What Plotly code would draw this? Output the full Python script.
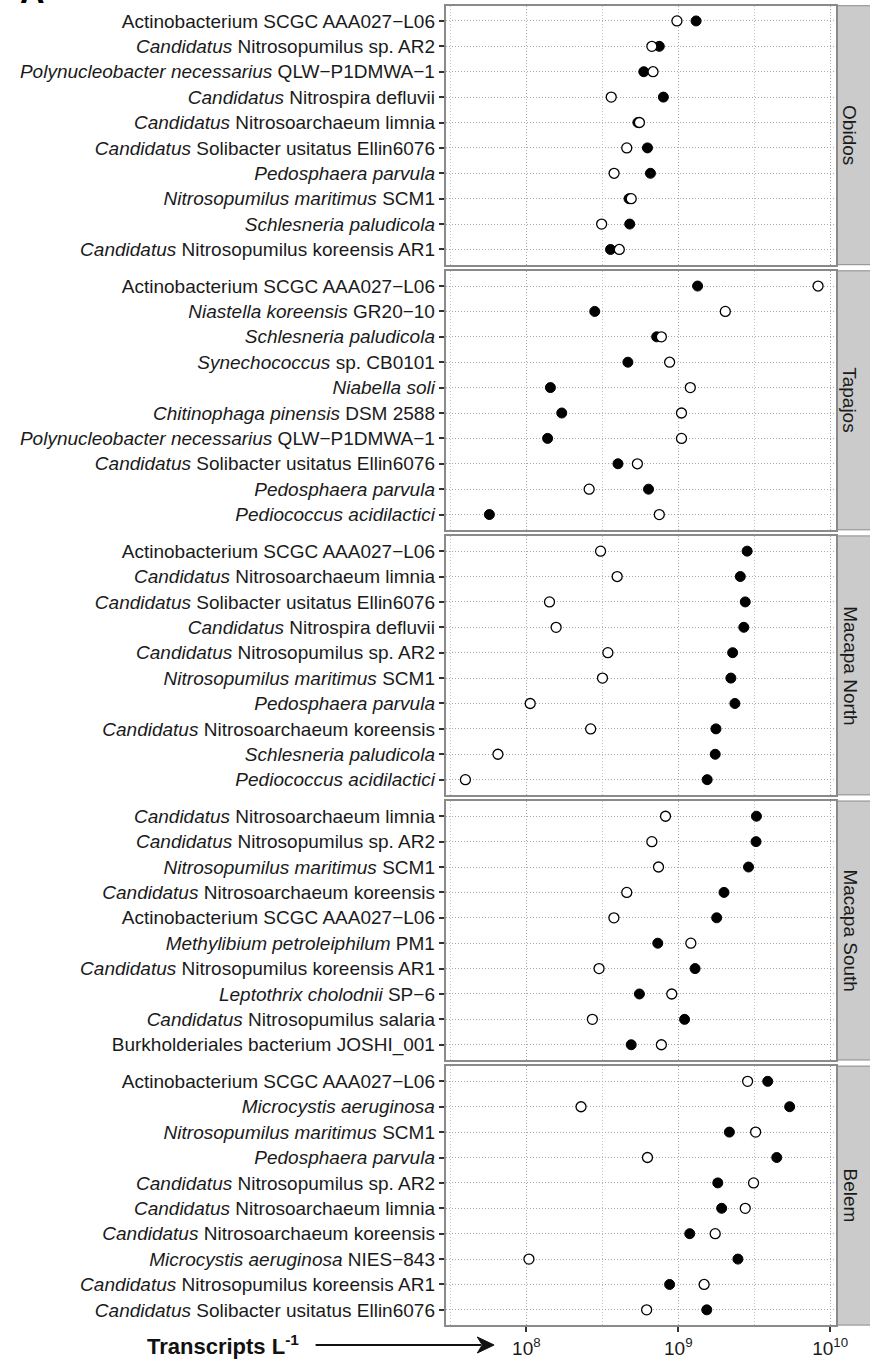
import plotly.graph_objects as go

W, H = 870, 1359
FONT = "Liberation Sans, Arial, sans-serif"

panels = ["Obidos", "Tapajos", "Macapa North", "Macapa South", "Belem"]

obidos_taxa = [
    "Actinobacterium SCGC AAA027\u2212L06",
    "<i>Candidatus</i> Nitrosopumilus sp. AR2",
    "<i>Polynucleobacter necessarius</i> QLW\u2212P1DMWA\u22121",
    "<i>Candidatus</i> Nitrospira defluvii",
    "<i>Candidatus</i> Nitrosoarchaeum limnia",
    "<i>Candidatus</i> Solibacter usitatus Ellin6076",
    "<i>Pedosphaera parvula</i>",
    "<i>Nitrosopumilus maritimus</i> SCM1",
    "<i>Schlesneria paludicola</i>",
    "<i>Candidatus</i> Nitrosopumilus koreensis AR1",
]
obidos_filled = [1.31e9, 7.5e8, 5.93e8, 7.98e8, 5.42e8, 6.27e8, 6.56e8, 4.74e8, 4.79e8, 3.58e8]
obidos_open = [9.8e8, 6.7e8, 6.82e8, 3.62e8, 5.55e8, 4.58e8, 3.78e8, 4.9e8, 3.13e8, 4.09e8]

tapajos_taxa = [
    "Actinobacterium SCGC AAA027\u2212L06",
    "<i>Niastella koreensis</i> GR20\u221210",
    "<i>Schlesneria paludicola</i>",
    "<i>Synechococcus</i> sp. CB0101",
    "<i>Niabella soli</i>",
    "<i>Chitinophaga pinensis</i> DSM 2588",
    "<i>Polynucleobacter necessarius</i> QLW\u2212P1DMWA\u22121",
    "<i>Candidatus</i> Solibacter usitatus Ellin6076",
    "<i>Pedosphaera parvula</i>",
    "<i>Pediococcus acidilactici</i>",
]
tapajos_filled = [1.34e9, 2.82e8, 7.21e8, 4.66e8, 1.44e8, 1.71e8, 1.38e8, 4.01e8, 6.37e8, 5.71e7]
tapajos_open = [8.32e9, 2.04e9, 7.74e8, 8.77e8, 1.2e9, 1.05e9, 1.05e9, 5.38e8, 2.59e8, 7.5e8]

macapa_north_taxa = [
    "Actinobacterium SCGC AAA027\u2212L06",
    "<i>Candidatus</i> Nitrosoarchaeum limnia",
    "<i>Candidatus</i> Solibacter usitatus Ellin6076",
    "<i>Candidatus</i> Nitrospira defluvii",
    "<i>Candidatus</i> Nitrosopumilus sp. AR2",
    "<i>Nitrosopumilus maritimus</i> SCM1",
    "<i>Pedosphaera parvula</i>",
    "<i>Candidatus</i> Nitrosoarchaeum koreensis",
    "<i>Schlesneria paludicola</i>",
    "<i>Pediococcus acidilactici</i>",
]
macapa_north_filled = [2.84e9, 2.56e9, 2.76e9, 2.70e9, 2.28e9, 2.22e9, 2.36e9, 1.77e9, 1.75e9, 1.55e9]
macapa_north_open = [3.08e8, 3.96e8, 1.42e8, 1.57e8, 3.44e8, 3.17e8, 1.06e8, 2.65e8, 6.5e7, 3.97e7]

macapa_south_taxa = [
    "<i>Candidatus</i> Nitrosoarchaeum limnia",
    "<i>Candidatus</i> Nitrosopumilus sp. AR2",
    "<i>Nitrosopumilus maritimus</i> SCM1",
    "<i>Candidatus</i> Nitrosoarchaeum koreensis",
    "Actinobacterium SCGC AAA027\u2212L06",
    "<i>Methylibium petroleiphilum</i> PM1",
    "<i>Candidatus</i> Nitrosopumilus koreensis AR1",
    "<i>Leptothrix cholodnii</i> SP\u22126",
    "<i>Candidatus</i> Nitrosopumilus salaria",
    "Burkholderiales bacterium JOSHI_001",
]
macapa_south_filled = [3.27e9, 3.25e9, 2.9e9, 2.0e9, 1.79e9, 7.33e8, 1.29e9, 5.55e8, 1.1e9, 4.9e8]
macapa_south_open = [8.24e8, 6.7e8, 7.41e8, 4.58e8, 3.77e8, 1.21e9, 3.01e8, 9.06e8, 2.72e8, 7.74e8]

belem_taxa = [
    "Actinobacterium SCGC AAA027\u2212L06",
    "<i>Microcystis aeruginosa</i>",
    "<i>Nitrosopumilus maritimus</i> SCM1",
    "<i>Pedosphaera parvula</i>",
    "<i>Candidatus</i> Nitrosopumilus sp. AR2",
    "<i>Candidatus</i> Nitrosoarchaeum limnia",
    "<i>Candidatus</i> Nitrosoarchaeum koreensis",
    "<i>Microcystis aeruginosa</i> NIES\u2212843",
    "<i>Candidatus</i> Nitrosopumilus koreensis AR1",
    "<i>Candidatus</i> Solibacter usitatus Ellin6076",
]
belem_filled = [3.88e9, 5.41e9, 2.17e9, 4.45e9, 1.82e9, 1.93e9, 1.19e9, 2.47e9, 8.77e8, 1.54e9]
belem_open = [2.86e9, 2.29e8, 3.23e9, 6.27e8, 3.13e9, 2.76e9, 1.75e9, 1.04e8, 1.48e9, 6.19e8]

x_tickvals = [1e8, 1e9, 1e10]
x_ticktext = ["10<sup>8</sup>", "10<sup>9</sup>", "10<sup>10</sup>"]
x_minorvals = [10 ** 7.5, 10 ** 8.5, 10 ** 9.5]
x_title = "<b>Transcripts L<sup>-1</sup></b>"

data = [
    (obidos_taxa, obidos_filled, obidos_open),
    (tapajos_taxa, tapajos_filled, tapajos_open),
    (macapa_north_taxa, macapa_north_filled, macapa_north_open),
    (macapa_south_taxa, macapa_south_filled, macapa_south_open),
    (belem_taxa, belem_filled, belem_open),
]

# layout geometry (pixels)
PX_L, PX_R = 452, 847.5
TOP0, PITCH, PH = 5.7, 265.1, 259.0
DOTS = "1px,2px"

fig = go.Figure()
layout = dict(
    width=W, height=H, autosize=False,
    margin=dict(l=0, r=0, t=0, b=0),
    paper_bgcolor="white", plot_bgcolor="white",
    showlegend=False,
    font=dict(family=FONT, color="#1a1a1a"),
    shapes=[], annotations=[],
)

for i, (taxa, filled, opn) in enumerate(data):
    n = i + 1
    xa = "x" if n == 1 else f"x{n}"
    ya = "y" if n == 1 else f"y{n}"
    top = TOP0 + PITCH * i
    bot = top + PH
    yd = [1 - bot / H, 1 - top / H]
    fig.add_trace(go.Scatter(
        x=filled, y=taxa, mode="markers", xaxis=xa, yaxis=ya,
        marker=dict(symbol="circle", size=10, color="black",
                    line=dict(color="black", width=1)),
        cliponaxis=False,
    ))
    fig.add_trace(go.Scatter(
        x=opn, y=taxa, mode="markers", xaxis=xa, yaxis=ya,
        marker=dict(symbol="circle", size=10, color="white",
                    line=dict(color="black", width=1.3)),
        cliponaxis=False,
    ))
    last = (i == len(data) - 1)
    layout["xaxis" if n == 1 else f"xaxis{n}"] = dict(
        type="log", range=[7.4695, 10.037],
        domain=[PX_L / W, PX_R / W], anchor=ya,
        tickvals=x_tickvals, ticktext=x_ticktext,
        showticklabels=last,
        ticks="outside" if last else "", ticklen=5, tickwidth=1.5, tickcolor="#333",
        tickfont=dict(size=19, color="#1a1a1a", family=FONT),
        showgrid=True, gridcolor="#a8a8a8", griddash=DOTS, gridwidth=1,
        minor=dict(tickvals=x_minorvals, showgrid=True, gridcolor="#c4c4c4",
                   griddash=DOTS, gridwidth=1, ticks=""),
        showline=True, mirror=True, linecolor="#8a8a8a", linewidth=2,
        zeroline=False, fixedrange=True,
    )
    layout["yaxis" if n == 1 else f"yaxis{n}"] = dict(
        type="category", categoryorder="array", categoryarray=taxa,
        range=[len(taxa) - 0.4, -0.6],
        domain=yd, anchor=xa,
        ticks="outside", ticklen=5, tickwidth=1.5, tickcolor="#333",
        tickfont=dict(size=19, color="#1a1a1a", family=FONT),
        showgrid=True, gridcolor="#a8a8a8", griddash=DOTS, gridwidth=1,
        showline=True, mirror=True, linecolor="#8a8a8a", linewidth=2,
        zeroline=False, fixedrange=True,
    )
    # strip
    layout["shapes"].append(dict(
        type="rect", xref="paper", yref="paper",
        x0=849 / W, x1=1.03, y0=yd[0], y1=yd[1],
        fillcolor="#cbcbcb", line=dict(color="#8a8a8a", width=1), layer="below",
    ))
    layout["annotations"].append(dict(
        xref="paper", yref="paper", x=862 / W, y=(yd[0] + yd[1]) / 2,
        text=panels[i], textangle=90, showarrow=False,
        xanchor="center", yanchor="middle",
        font=dict(size=19, color="#1a1a1a", family=FONT),
    ))

# x-axis title with arrow
layout["annotations"].append(dict(
    xref="paper", yref="paper", x=226 / W, y=1 - 1345 / H,
    text=x_title, showarrow=False, xanchor="center", yanchor="middle",
    font=dict(size=22, color="#111", family=FONT),
))
ay = 1 - 1345 / H
layout["shapes"].append(dict(
    type="line", xref="paper", yref="paper",
    x0=320 / W, x1=488 / W, y0=ay, y1=ay,
    line=dict(color="#111", width=2.2),
))
layout["shapes"].append(dict(
    type="path", xref="paper", yref="paper",
    path=(f"M {484 / W},{1 - 1337 / H} L {501 / W},{ay} "
          f"L {484 / W},{1 - 1353 / H} L {489 / W},{ay} Z"),
    fillcolor="#111", line=dict(color="#111", width=1),
))
# panel tag
layout["annotations"].append(dict(
    xref="paper", yref="paper", x=18 / W, y=1 - 12 / H,
    text="<b>A</b>", showarrow=False, xanchor="left", yanchor="bottom",
    font=dict(size=34, color="black", family=FONT),
))

fig.update_layout(**layout)
fig.write_html("out.html")
